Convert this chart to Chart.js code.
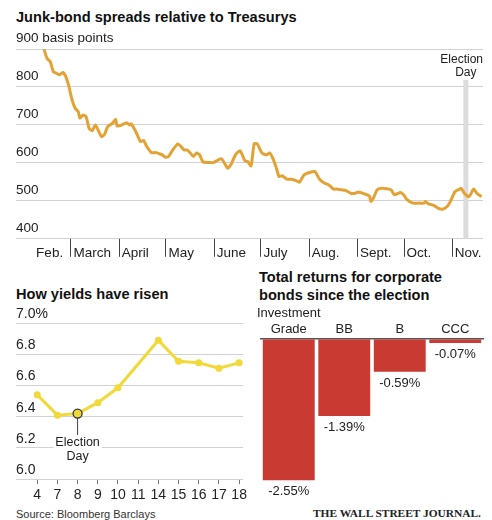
<!DOCTYPE html>
<html>
<head>
<meta charset="utf-8">
<script src="https://cdn.jsdelivr.net/npm/chart.js@4.4.1/dist/chart.umd.min.js"></script>
<style>
	body { margin: 0; background: #fff; font-family: "Liberation Sans", Arial, sans-serif; color: #222; }
	#wrap { position: relative; width: 492px; height: 520px; overflow: hidden; }
	.title { position: absolute; font-weight: bold; font-size: 14.6px; line-height: 18px; color: #111; white-space: nowrap; }
	.box { position: absolute; }
	.note { position: absolute; font-size: 11px; color: #333; }
	.wsj { position: absolute; font-family: "Liberation Serif", serif; font-weight: bold; font-size: 11.4px; color: #222; }
</style>
</head>
<body>
<div id="wrap">
	<div class="title" style="left:16px; top:8px;">Junk-bond spreads relative to Treasurys</div>
	<div class="box" style="left:0; top:0; width:492px; height:266px;"><canvas id="spreadChart"></canvas></div>

	<div class="title" style="left:16px; top:285px;">How yields have risen</div>
	<div class="box" style="left:0; top:300px; width:250px; height:207px;"><canvas id="yieldChart"></canvas></div>

	<div class="title" style="left:259px; top:268px;">Total returns for corporate<br>bonds since the election</div>
	<div class="box" style="left:250px; top:300px; width:242px; height:207px;"><canvas id="returnChart"></canvas></div>

	<div class="note" style="left:16px; top:508px;">Source: Bloomberg Barclays</div>
	<div class="wsj" style="left:313px; top:507px;">THE WALL STREET JOURNAL.</div>
</div>

<script>
// junk-bond spread, day of year 2016 (Jan 1 = 0) -> basis points
var spreadDays = [43, 45, 47, 49, 51, 53, 55, 57, 59, 61, 63, 65, 66, 68, 70, 72, 74, 76, 78, 80,
	82, 84, 87, 89, 90, 93, 96, 98, 99, 102, 105, 107, 109, 112, 115, 117, 119, 121, 123, 126,
	129, 131, 133, 135, 137, 139, 141, 143, 145, 149, 152, 155, 157, 159, 161, 163, 166, 169, 172, 174,
	176, 178, 180, 183, 186, 188, 190, 192, 194, 196, 199, 202, 205, 207, 210, 213, 217, 220, 223, 226,
	229, 231, 234, 237, 240, 243, 245, 249, 252, 253, 255, 257, 260, 263, 266, 268, 272, 274, 276, 280,
	284, 287, 288, 290, 293, 296, 299, 302, 304, 307, 310, 311, 313, 316, 319, 321, 324];
var spreadValues = [899, 875, 867, 840, 836, 832, 838, 827, 801, 766, 744, 735, 718, 726, 722, 691, 685, 700, 684, 669,
	676, 696, 704, 715, 697, 700, 706, 700, 703, 682, 656, 659, 643, 627, 627, 624, 621, 615, 617, 636,
	650, 643, 634, 634, 626, 617, 626, 621, 603, 601, 601, 608, 611, 599, 586, 595, 621, 632, 606, 603,
	592, 650, 650, 626, 621, 626, 612, 590, 564, 566, 557, 557, 553, 549, 568, 574, 577, 557, 547, 542,
	531, 531, 529, 527, 520, 520, 523, 518, 513, 498, 511, 529, 533, 532, 529, 516, 522, 516, 504, 494,
	494, 494, 498, 492, 489, 481, 478, 485, 498, 524, 531, 533, 520, 511, 531, 520, 511];
var monthTicks = [36, 60, 91, 121, 152, 182, 213, 244, 274, 305];
var monthLabels = ['Feb.', 'March', 'April', 'May', 'June', 'July', 'Aug.', 'Sept.', 'Oct.', 'Nov.'];
var electionDay = 314;

// yields in November, %
var yieldDates = ['4', '7', '8', '9', '10', '11', '14', '15', '16', '17', '18'];
var yieldValues = [6.54, 6.41, 6.42, 6.49, 6.585, null, 6.89, 6.755, 6.745, 6.71, 6.745];
var yieldElectionIndex = 2;

// total returns since the election, %
var ratingLabels = [['Investment', 'Grade'], 'BB', 'B', 'CCC'];
var ratingReturns = [-2.55, -1.39, -0.59, -0.07];

Chart.defaults.font.family = '"Liberation Sans", Arial, sans-serif';
Chart.defaults.color = '#222';
Chart.defaults.animation = false;

var gridGray = '#d2d2d2';

// ---- top: spreads line ----
var electionBand = {
	id: 'electionBand',
	beforeDatasetsDraw: function(chart) {
		var ctx = chart.ctx;
		var area = chart.chartArea;
		var x = chart.scales.x.getPixelForValue(electionDay);
		ctx.save();
		ctx.fillStyle = '#dcdcdc';
		ctx.fillRect(x - 2.5, 80, 5, area.bottom - 80);
		ctx.fillStyle = '#222';
		ctx.font = '12px "Liberation Sans", Arial, sans-serif';
		ctx.textAlign = 'right';
		ctx.textBaseline = 'middle';
		ctx.fillText('Election', area.right, 60);
		ctx.textAlign = 'center';
		ctx.fillText('Day', x, 73);
		ctx.restore();
	},
	afterDraw: function(chart) {
		// month separators below the axis
		var ctx = chart.ctx;
		var scale = chart.scales.x;
		ctx.save();
		ctx.strokeStyle = '#444';
		ctx.lineWidth = 1;
		monthTicks.forEach(function(v, i) {
			if (i === 0) return;
			var x = Math.round(scale.getPixelForValue(v)) + 0.5;
			ctx.beginPath();
			ctx.moveTo(x, chart.chartArea.bottom);
			ctx.lineTo(x, chart.chartArea.bottom + 18);
			ctx.stroke();
		});
		ctx.restore();
	}
};

new Chart(document.getElementById('spreadChart'), {
	type: 'line',
	data: {
		datasets: [{
			data: spreadDays.map(function(d, i) { return { x: d, y: spreadValues[i] }; }),
			borderColor: '#e3a234',
			borderWidth: 3,
			pointRadius: 0,
			tension: 0.2,
			clip: false
		}]
	},
	options: {
		responsive: true,
		maintainAspectRatio: false,
		layout: { padding: { top: 49, left: 16, right: 9, bottom: 5 } },
		plugins: { legend: { display: false }, tooltip: { enabled: false } },
		scales: {
			x: {
				type: 'linear',
				min: 25,
				max: 325,
				afterBuildTicks: function(scale) {
					scale.ticks = monthTicks.map(function(v) { return { value: v }; });
				},
				border: { display: false },
				grid: { drawOnChartArea: false, drawTicks: true, tickLength: 6, tickColor: 'rgba(0,0,0,0)' },
				ticks: {
					autoSkip: false,
					maxRotation: 0,
					align: 'start',
					labelOffset: 3,
					padding: 0,
					font: { size: 13.5 },
					callback: function(v, i) { return monthLabels[i]; }
				}
			},
			y: {
				min: 400,
				max: 900,
				border: { display: false },
				grid: { color: gridGray, drawTicks: false },
				ticks: {
					stepSize: 100,
					mirror: true,
					padding: 0,
					labelOffset: -11,
					font: { size: 13.5 },
					callback: function(v) { return v === 900 ? '900 basis points' : v; }
				}
			}
		}
	},
	plugins: [electionBand]
});

// ---- bottom left: yields ----
var yieldNote = {
	id: 'yieldNote',
	beforeDatasetsDraw: function(chart) {
		var ctx = chart.ctx;
		var x = chart.scales.x.getPixelForValue(yieldElectionIndex);
		var y = chart.scales.y.getPixelForValue(yieldValues[yieldElectionIndex]);
		ctx.save();
		ctx.fillStyle = '#fff';
		ctx.fillRect(x - 24, 136, 48, 30);
		ctx.strokeStyle = '#444';
		ctx.lineWidth = 1;
		ctx.beginPath();
		ctx.moveTo(x, y);
		ctx.lineTo(x, 135);
		ctx.stroke();
		ctx.fillStyle = '#222';
		ctx.font = '12.5px "Liberation Sans", Arial, sans-serif';
		ctx.textAlign = 'center';
		ctx.textBaseline = 'middle';
		ctx.fillText('Election', x, 143);
		ctx.fillText('Day', x, 157);
		ctx.restore();
	}
};

var yellow = '#f1d93a';

new Chart(document.getElementById('yieldChart'), {
	type: 'line',
	data: {
		datasets: [{
			data: yieldValues.map(function(v, i) { return { x: i, y: v }; }),
			borderColor: yellow,
			borderWidth: 3,
			spanGaps: true,
			tension: 0,
			pointBackgroundColor: yellow,
			pointRadius: function(c) { return c.dataIndex === yieldElectionIndex ? 4.5 : 3.5; },
			pointBorderWidth: function(c) { return c.dataIndex === yieldElectionIndex ? 1.3 : 0; },
			pointBorderColor: '#333',
			clip: false
		}]
	},
	options: {
		responsive: true,
		maintainAspectRatio: false,
		layout: { padding: { top: 23, left: 16, right: 0, bottom: 0 } },
		plugins: { legend: { display: false }, tooltip: { enabled: false } },
		scales: {
			x: {
				type: 'linear',
				min: -1.05,
				max: 10.2,
				afterBuildTicks: function(scale) {
					scale.ticks = yieldDates.map(function(d, i) { return { value: i }; });
				},
				border: { display: false },
				grid: { drawOnChartArea: false, tickLength: 5, tickColor: '#777' },
				ticks: {
					autoSkip: false,
					maxRotation: 0,
					padding: 3,
					font: { size: 14 },
					callback: function(v, i) { return yieldDates[i]; }
				}
			},
			y: {
				min: 6.0,
				max: 7.0,
				border: { display: false },
				grid: { color: gridGray, drawTicks: false },
				ticks: {
					stepSize: 0.2,
					mirror: true,
					padding: 0,
					labelOffset: -9,
					font: { size: 14 },
					callback: function(v) { return Math.abs(v - 7) < 1e-6 ? '7.0%' : v.toFixed(1); }
				}
			}
		}
	},
	plugins: [yieldNote]
});

// ---- bottom right: returns bars ----
var barValues = {
	id: 'barValues',
	afterDatasetsDraw: function(chart) {
		var ctx = chart.ctx;
		ctx.save();
		ctx.fillStyle = '#222';
		ctx.font = '13px "Liberation Sans", Arial, sans-serif';
		ctx.textAlign = 'center';
		ctx.textBaseline = 'top';
		chart.getDatasetMeta(0).data.forEach(function(bar, i) {
			ctx.fillText(ratingReturns[i].toFixed(2) + '%', bar.x, bar.y + 5);
		});
		ctx.restore();
	}
};

new Chart(document.getElementById('returnChart'), {
	type: 'bar',
	data: {
		labels: ratingLabels,
		datasets: [{
			data: ratingReturns,
			backgroundColor: '#c93a32',
			barPercentage: 0.935,
			categoryPercentage: 1
		}]
	},
	options: {
		responsive: true,
		maintainAspectRatio: false,
		layout: { padding: { top: 4, left: 11, right: 9, bottom: 24 } },
		plugins: { legend: { display: false }, tooltip: { enabled: false } },
		scales: {
			x: {
				position: 'top',
				border: { display: true, color: '#555', width: 1.5 },
				grid: { display: true, drawOnChartArea: false, drawTicks: false },
				ticks: { autoSkip: false, padding: 2, font: { size: 13 }, maxRotation: 0 }
			},
			y: {
				display: false,
				min: -2.6,
				max: 0
			}
		}
	},
	plugins: [barValues]
});
</script>
</body>
</html>
